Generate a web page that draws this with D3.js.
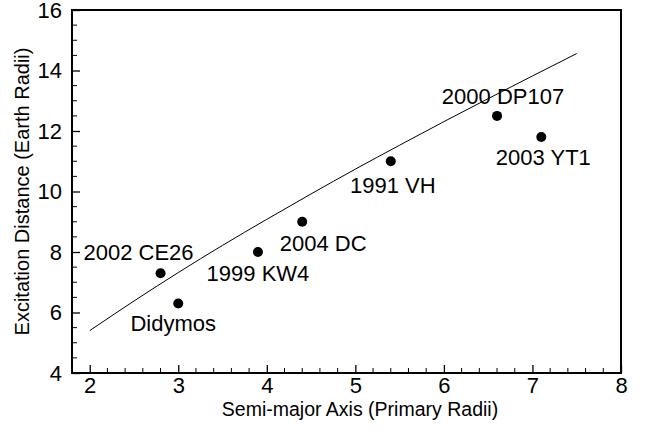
<!DOCTYPE html>
<html><head><meta charset="utf-8">
<script src="https://cdn.jsdelivr.net/npm/d3@7"></script>
<style>body{margin:0;background:#fff;} text{font-family:"Liberation Sans",Arial,Helvetica,sans-serif;}</style>
</head><body><svg id="c" width="646" height="436"></svg>
<script>
const names = ["2002 CE26","Didymos","1999 KW4","2004 DC","1991 VH","2000 DP107","2003 YT1"];
const semiMajor = [2.8, 3.0, 3.9, 4.4, 5.4, 6.6, 7.1];
const excitation = [7.3, 6.3, 8.0, 9.0, 11.0, 12.5, 11.8];
const curveX = [2, 2.5, 3, 3.5, 4, 4.5, 5, 5.5, 6, 6.5, 7, 7.5];
const curveY = [5.40, 6.38, 7.32, 8.22, 9.08, 9.92, 10.74, 11.53, 12.31, 13.07, 13.82, 14.56];
const xTicks = [2,3,4,5,6,7,8];
const yTicks = [4,6,8,10,12,14,16];

// label placement (pixel offsets from each point)
const labelPos = [
  {dx:-22, dy:-13},
  {dx:-5, dy:28},
  {dx:0, dy:29},
  {dx:21, dy:29},
  {dx:2, dy:32},
  {dx:6, dy:-12},
  {dx:2, dy:28}
];

const svg = d3.select("#c");
const L = 72, R = 621, T = 10, B = 373;
const x = d3.scaleLinear().domain([1.8, 8]).range([L, R]);
const y = d3.scaleLinear().domain([4, 16]).range([B, T]);

const xMinor = d3.range(2, 8.001, 0.2).filter(v => Math.abs(v - Math.round(v)) > 1e-6);
const yMinor = d3.range(4, 16.001, 0.5).filter(v => Math.abs(v/2 - Math.round(v/2)) > 1e-6);

const xAxis = d3.axisBottom(x).tickValues(xTicks).tickSize(-8).tickPadding(4).tickFormat(d3.format("d"));
const gx = svg.append("g").attr("transform", `translate(0,${B})`).call(xAxis);
gx.select(".domain").remove();
gx.selectAll("line").attr("stroke","#000").attr("stroke-width",1.3);
gx.selectAll("text").attr("font-size", 22).attr("fill","#000").attr("font-family","Liberation Sans, Arial, sans-serif");
svg.append("g").selectAll("line").data(xMinor).join("line")
  .attr("x1", d => x(d)).attr("x2", d => x(d)).attr("y1", B).attr("y2", B - 5)
  .attr("stroke","#000").attr("stroke-width",1);

const yAxis = d3.axisLeft(y).tickValues(yTicks).tickSize(-8).tickPadding(10).tickFormat(d3.format("d"));
const gy = svg.append("g").attr("transform", `translate(${L},0)`).call(yAxis);
gy.select(".domain").remove();
gy.selectAll("line").attr("stroke","#000").attr("stroke-width",1.3);
gy.selectAll("text").attr("font-size", 22).attr("fill","#000").attr("font-family","Liberation Sans, Arial, sans-serif");
svg.append("g").selectAll("line").data(yMinor).join("line")
  .attr("x1", L).attr("x2", L + 5).attr("y1", d => y(d)).attr("y2", d => y(d))
  .attr("stroke","#000").attr("stroke-width",1);

svg.append("rect").attr("x", L).attr("y", T).attr("width", R - L).attr("height", B - T)
  .attr("fill","none").attr("stroke","#000").attr("stroke-width",2);

const line = d3.line().x(d => x(d[0])).y(d => y(d[1])).curve(d3.curveMonotoneX);
svg.append("path").datum(curveX.map((v,i) => [v, curveY[i]]))
  .attr("d", line).attr("fill","none").attr("stroke","#000").attr("stroke-width",1);

svg.append("g").selectAll("circle").data(semiMajor).join("circle")
  .attr("cx", d => x(d)).attr("cy", (d,i) => y(excitation[i])).attr("r", 5).attr("fill","#000");

svg.append("g").selectAll("text").data(names).join("text")
  .attr("x", (d,i) => x(semiMajor[i]) + labelPos[i].dx)
  .attr("y", (d,i) => y(excitation[i]) + labelPos[i].dy)
  .attr("text-anchor", "middle")
  .attr("font-size", 22).attr("fill","#000")
  .text(d => d);

svg.append("text").attr("x", 360).attr("y", 416).attr("text-anchor","middle")
  .attr("font-size", 19.5).text("Semi-major Axis (Primary Radii)");
svg.append("text").attr("transform", `translate(29,${(T + B) / 2}) rotate(-90)`)
  .attr("text-anchor","middle").attr("font-size", 20).text("Excitation Distance (Earth Radii)");
</script></body></html>
